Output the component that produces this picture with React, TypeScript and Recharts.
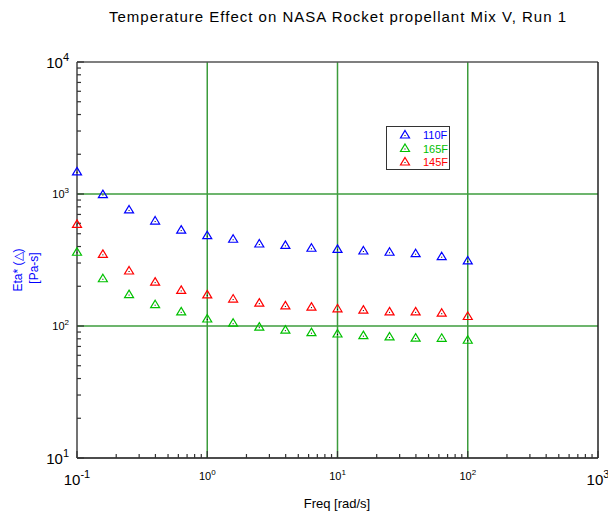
import React from 'react';
import { ScatterChart, Scatter, XAxis, YAxis, ReferenceLine } from 'recharts';

const freq = [0.1, 0.158, 0.251, 0.398, 0.631, 1, 1.58, 2.51, 3.98, 6.31, 10, 15.8, 25.1, 39.8, 63.1, 100];
const eta110 = [1470, 990, 757, 624, 533, 483, 454, 418, 408, 388, 381, 370, 362, 353, 335, 311];
const eta165 = [362, 228, 173, 145, 128, 113, 105, 98, 93, 89, 87, 84.5, 82.6, 81, 80.7, 78];
const eta145 = [589, 349, 261, 215, 186, 172, 160, 149, 142, 139, 135, 132, 128, 128, 125, 118];

const seriesNames = ['110F', '165F', '145F'];
const seriesColors = ['#0000ff', '#00c000', '#ff0000'];

const xMajor = [0.1, 1, 10, 100, 1000];
const xMajorExp = ['-1', '0', '1', '2', '3'];
const yMajor = [10, 100, 1000, 10000];
const yMajorExp = ['1', '2', '3', '4'];

const buildMinor = (lo: number, hi: number) => {
  const out: number[] = [];
  for (let d = lo; d < hi; d *= 10) {
    for (let m = 2; m < 10; m++) out.push(+(d * m).toPrecision(3));
  }
  return out;
};
const xMinor = buildMinor(0.1, 1000);
const yMinor = buildMinor(10, 10000);

const toPoints = (ys: number[]) => freq.map((f, i) => ({ f, v: ys[i] }));
const data110 = toPoints(eta110);
const data165 = toPoints(eta165);
const data145 = toPoints(eta145);

// tick-mark anchors placed on the axes through the chart's own scales
const xTickMarks = [...xMajor, ...xMinor].map((f) => ({ f, v: yMajor[0], major: xMajor.includes(f) }));
const yTickMarks = [...yMajor, ...yMinor].map((v) => ({ f: xMajor[0], v, major: yMajor.includes(v) }));

const FONT = '"Liberation Sans", Arial, sans-serif';

const findIdx = (v: number, majors: number[]) => majors.findIndex((m) => Math.abs(m - v) / m < 1e-6);

const Tri = ({ cx, cy, color }: { cx: number; cy: number; color: string }) => (
  <g>
    <path
      d={`M${cx},${cy - 4.5} L${cx + 4.5},${cy + 3} L${cx - 4.5},${cy + 3} Z`}
      fill="none"
      stroke={color}
      strokeWidth={1.2}
    />
    <rect x={cx - 0.5} y={cy} width={1} height={1} fill="#000" />
  </g>
);

const makeShape = (color: string) => (props: any) => {
  const { cx, cy } = props;
  if (cx == null || cy == null) return <g />;
  return <Tri cx={cx} cy={cy} color={color} />;
};

const XTickMark = (props: any) => {
  const { cx, cy, payload } = props;
  if (cx == null || cy == null) return <g />;
  const len = payload && payload.major ? 7 : 4;
  return <rect x={cx - 0.6} y={cy - len} width={1.2} height={len} fill="#333" />;
};

const YTickMark = (props: any) => {
  const { cx, cy, payload } = props;
  if (cx == null || cy == null) return <g />;
  const len = payload && payload.major ? 7 : 4;
  return <rect x={cx} y={cy - 0.6} width={len} height={1.2} fill="#333" />;
};

const XTick = (props: any) => {
  const { x, y, payload } = props;
  const idx = findIdx(payload.value, xMajor);
  if (idx < 0) return <g />;
  const big = idx === 0 || idx === xMajor.length - 1;
  return (
    <text x={x} y={big ? y + 27 : y + 22} textAnchor="middle" fontFamily={FONT} fill="#000" fontSize={big ? 15 : 11}>
      <tspan>10</tspan>
      <tspan dy={big ? -7 : -5} fontSize={big ? 11 : 8}>{xMajorExp[idx]}</tspan>
    </text>
  );
};

const YTick = (props: any) => {
  const { x, y, payload } = props;
  const idx = findIdx(payload.value, yMajor);
  if (idx < 0) return <g />;
  const big = idx === 0 || idx === yMajor.length - 1;
  return (
    <text x={x - 8} y={big ? y + 6 : y + 4} textAnchor="end" fontFamily={FONT} fill="#000" fontSize={big ? 15 : 11}>
      <tspan>10</tspan>
      <tspan dy={big ? -7 : -5} fontSize={big ? 11 : 8}>{yMajorExp[idx]}</tspan>
    </text>
  );
};

const GRID = '#3c9c3c';

export default function App() {
  return (
    <div style={{ position: 'fixed', left: 0, top: 0, width: 608, height: 514, background: '#fff' }}>
      <ScatterChart
        width={608}
        height={514}
        margin={{ top: 62, right: 10, left: 0, bottom: 0 }}
      >
        <XAxis
          dataKey="f"
          type="number"
          scale="log"
          domain={[0.1, 1000]}
          ticks={xMajor}
          interval={0}
          tick={<XTick />}
          tickLine={false}
          tickSize={0}
          tickMargin={0}
          height={56}
          axisLine={{ stroke: '#111', strokeWidth: 1.5 }}
        />
        <YAxis
          dataKey="v"
          type="number"
          scale="log"
          domain={[10, 10000]}
          ticks={yMajor}
          interval={0}
          tick={<YTick />}
          tickLine={false}
          tickSize={0}
          tickMargin={0}
          width={77}
          axisLine={{ stroke: '#444', strokeWidth: 1.5 }}
        />
        {[1, 10, 100].map((v) => (
          <ReferenceLine key={'x' + v} x={v} stroke={GRID} strokeWidth={1.5} />
        ))}
        {[100, 1000].map((v) => (
          <ReferenceLine key={'y' + v} y={v} stroke={GRID} strokeWidth={1.5} />
        ))}
        <ReferenceLine y={10000} stroke="#555" strokeWidth={1.5} />
        <ReferenceLine x={1000} stroke="#222" strokeWidth={1.5} />
        <Scatter name="xticks" data={xTickMarks} shape={XTickMark} isAnimationActive={false} legendType="none" />
        <Scatter name="yticks" data={yTickMarks} shape={YTickMark} isAnimationActive={false} legendType="none" />
        <Scatter name={seriesNames[0]} data={data110} shape={makeShape(seriesColors[0])} isAnimationActive={false} />
        <Scatter name={seriesNames[1]} data={data165} shape={makeShape(seriesColors[1])} isAnimationActive={false} />
        <Scatter name={seriesNames[2]} data={data145} shape={makeShape(seriesColors[2])} isAnimationActive={false} />
      </ScatterChart>
      <svg
        width={608}
        height={514}
        style={{ position: 'absolute', left: 0, top: 0, pointerEvents: 'none' }}
      >
        <text x={338} y={22} textAnchor="middle" fontFamily={FONT} fontSize={15} letterSpacing={1} fill="#000">
          Temperature Effect on NASA Rocket propellant Mix V, Run 1
        </text>
        <text x={337} y={508} textAnchor="middle" fontFamily={FONT} fontSize={13} fill="#000">
          Freq [rad/s]
        </text>
        <text
          x={0}
          y={0}
          transform="translate(22,270) rotate(-90)"
          textAnchor="middle"
          fontFamily={FONT}
          fontSize={12}
          fill="#0000ff"
        >
          Eta* (△)
        </text>
        <text
          x={0}
          y={0}
          transform="translate(38,268) rotate(-90)"
          textAnchor="middle"
          fontFamily={FONT}
          fontSize={12}
          fill="#0000ff"
        >
          [Pa-s]
        </text>
        <rect x={386.5} y={126.5} width={63} height={43} fill="#fff" stroke="#333" strokeWidth={1} />
        {seriesNames.map((n, i) => (
          <g key={n}>
            <Tri cx={405} cy={135 + i * 13.5} color={seriesColors[i]} />
            <text x={423} y={139 + i * 13.5} fontFamily={FONT} fontSize={11} fill={seriesColors[i]}>
              {n}
            </text>
          </g>
        ))}
      </svg>
    </div>
  );
}
